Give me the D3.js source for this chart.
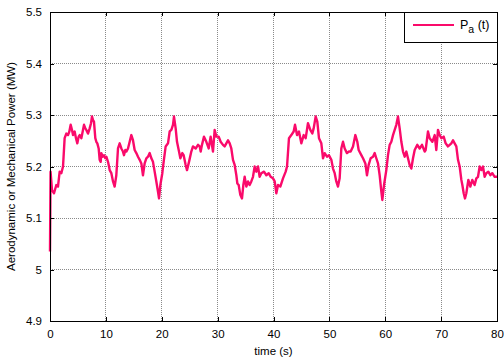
<!DOCTYPE html>
<html lang="en">
<meta charset="utf-8">
<head>
    <script src="https://d3js.org/d3.v7.min.js"></script>
    <style>
        body { margin: 0; background: #fff; }
        text { font-family: "Liberation Sans", Arial, sans-serif; }
    </style>
</head>
<body>
<script>
// time (s) and power (MW)
const time = [
    0, 0.1, 0.36, 0.72, 1.13, 1.43, 1.73, 2.03, 2.33, 2.62, 2.92, 3.22, 3.46, 3.70, 3.94,
    4.12, 4.41, 4.65, 4.89, 5.13, 5.31, 5.61, 5.85, 6.09, 6.32, 6.50, 6.80, 7.10, 7.34,
    7.52, 7.70, 7.87, 8.11, 8.29, 8.47, 8.71, 8.89, 9.07, 9.19, 9.43, 9.66, 9.90, 10.08,
    10.38, 10.56, 10.68, 10.98, 11.28, 11.57, 11.87, 12.17, 12.47, 12.77, 13.06, 13.24, 13.48,
    13.66, 13.96, 14.26, 14.56, 14.85, 15.15, 15.45, 15.75, 16.05, 16.35, 16.64, 16.94, 17.24,
    17.54, 17.84, 18.14, 18.43, 18.73, 19.03, 19.33, 19.51, 19.75, 20.10, 20.34, 20.70, 21.12,
    21.42, 21.72, 22.01, 22.19, 22.49, 22.73, 23.09, 23.33, 23.68, 23.92, 24.28, 24.52, 24.88,
    25.29, 25.59, 26.07, 26.49, 26.79,
    26.97, 27.20, 27.56, 27.98, 28.40, 28.75, 29.17, 29.47, 29.77, 30.19, 30.54, 30.96, 31.26,
    31.56, 31.86, 32.16, 32.45, 32.75, 33.05, 33.35, 33.53, 33.77, 34.06, 34.36, 34.60, 34.84,
    35.14, 35.44, 35.73, 36.03, 36.33, 36.63, 36.93, 37.23, 37.52, 37.82, 38.30, 38.72, 39.14,
    39.49, 39.91,
    40.21, 40.51, 40.81, 41.22, 41.70, 42.18, 42.42, 42.77, 43.19, 43.61, 43.85, 44.21, 44.56,
    44.98, 45.40, 45.76, 46.17, 46.59, 46.95, 47.19, 47.55, 47.84, 48.14, 48.56, 48.86, 49.16,
    49.57, 49.93, 50.35, 50.65, 50.95, 51.24, 51.54, 51.84, 52.14, 52.44, 52.74, 53.15, 53.51,
    53.81, 54.23, 54.65, 55.00, 55.24, 55.72, 56.02, 56.44, 56.73, 57.03, 57.39, 57.81, 58.11,
    58.40, 58.70, 59.00, 59.30, 59.48, 59.78, 60.19, 60.49, 60.79, 61.09, 61.39, 61.69, 61.98,
    62.28, 62.58, 62.88, 63.18, 63.48, 63.77, 64.07, 64.37, 64.67, 64.97, 65.27, 65.74, 66.16,
    66.58, 67.06,
    67.23, 67.65, 67.95, 68.43, 68.85, 69.14, 69.44, 69.74, 70.04, 70.46, 70.81, 71.23, 71.53,
    71.83, 72.13, 72.42, 72.72, 73.02, 73.32, 73.62, 73.80, 74.04, 74.27, 74.51, 74.87, 75.23,
    75.58, 76.00, 76.30, 76.60, 76.90, 77.20, 77.49, 77.79, 78.09, 78.45, 78.81, 79.16, 79.58,
    80.00
];
const power = [
    5.035, 5.19, 5.154, 5.148, 5.164, 5.161, 5.19, 5.187, 5.2, 5.255, 5.264, 5.261, 5.268, 5.281, 5.271,
    5.261, 5.268, 5.255, 5.245, 5.258, 5.261, 5.255, 5.268, 5.281, 5.274, 5.271, 5.264, 5.274, 5.284,
    5.297, 5.29, 5.287, 5.255, 5.248, 5.245, 5.235, 5.213, 5.209, 5.226, 5.219, 5.222, 5.216, 5.219,
    5.209, 5.2, 5.193, 5.187, 5.171, 5.161, 5.183, 5.235, 5.245, 5.235, 5.229, 5.222, 5.232,
    5.229, 5.235, 5.248, 5.261, 5.251, 5.232, 5.226, 5.219, 5.213, 5.206, 5.183, 5.206, 5.216,
    5.219, 5.226, 5.216, 5.209, 5.19, 5.171, 5.151, 5.138, 5.164, 5.187, 5.209, 5.239, 5.245,
    5.268, 5.271, 5.281, 5.297, 5.274, 5.248, 5.229, 5.216, 5.226, 5.222, 5.203, 5.193, 5.209,
    5.229, 5.239, 5.235, 5.242, 5.239,
    5.229, 5.242, 5.258, 5.248, 5.235, 5.258, 5.229, 5.271, 5.258, 5.258, 5.248, 5.242, 5.239,
    5.245, 5.251, 5.245, 5.235, 5.213, 5.203, 5.183, 5.167, 5.164, 5.145, 5.138, 5.164, 5.18,
    5.161, 5.171, 5.164, 5.171, 5.18, 5.2, 5.19, 5.2, 5.18, 5.187, 5.19, 5.183, 5.187,
    5.18, 5.177,
    5.171, 5.148, 5.164, 5.161, 5.177, 5.19, 5.2, 5.255, 5.261, 5.268, 5.281, 5.261, 5.268,
    5.245, 5.261, 5.255, 5.284, 5.271, 5.264, 5.274, 5.297, 5.287, 5.255, 5.245, 5.216, 5.226,
    5.219, 5.222, 5.213, 5.196, 5.187, 5.171, 5.161, 5.177, 5.235, 5.248, 5.235, 5.226, 5.229,
    5.229, 5.239, 5.261, 5.248, 5.232, 5.222, 5.216, 5.206, 5.183, 5.203, 5.216, 5.219, 5.226,
    5.216, 5.206, 5.183, 5.151, 5.135, 5.164, 5.193, 5.222, 5.242, 5.248, 5.261, 5.271, 5.281,
    5.297, 5.274, 5.248, 5.229, 5.219, 5.229, 5.216, 5.203, 5.196, 5.216, 5.232, 5.242, 5.235,
    5.242, 5.229,
    5.232, 5.268, 5.255, 5.248, 5.261, 5.232, 5.271, 5.261, 5.255, 5.258, 5.245, 5.239, 5.242,
    5.245, 5.251, 5.245, 5.239, 5.213, 5.2, 5.174, 5.164, 5.148, 5.138, 5.148, 5.174, 5.161,
    5.174, 5.164, 5.177, 5.18, 5.2, 5.193, 5.2, 5.18, 5.187, 5.19, 5.183, 5.187, 5.18,
    5.18
];
const xTicks = [0, 10, 20, 30, 40, 50, 60, 70, 80];
const yTicks = [4.9, 5, 5.1, 5.2, 5.3, 5.4, 5.5];
const seriesName = "P";
const seriesSub = "a";
const seriesRest = " (t)";

const lineColor = "#fa0a6a";

// dimensions
const W = 504, H = 361;
const margin = {top: 12, right: 7, bottom: 40, left: 50};
const width = W - margin.left - margin.right;
const height = H - margin.top - margin.bottom;

const svg = d3.select("body").append("svg")
    .attr("width", W)
    .attr("height", H);
const g = svg.append("g")
    .attr("transform", "translate(" + margin.left + "," + margin.top + ")");

const x = d3.scaleLinear().domain([0, 80]).range([0, width]);
const y = d3.scaleLinear().domain([4.9, 5.5]).range([height, 0]);

// grid (dotted)
g.append("g").selectAll("line.vg")
    .data(xTicks.slice(1, -1))
    .enter().append("line")
    .attr("x1", d => x(d)).attr("x2", d => x(d))
    .attr("y1", 0).attr("y2", height)
    .attr("stroke", "#8a8a8a").attr("stroke-width", 1)
    .attr("stroke-dasharray", "1,1")
    .attr("shape-rendering", "crispEdges");
g.append("g").selectAll("line.hg")
    .data(yTicks.slice(1, -1))
    .enter().append("line")
    .attr("x1", 0).attr("x2", width)
    .attr("y1", d => y(d)).attr("y2", d => y(d))
    .attr("stroke", "#8a8a8a").attr("stroke-width", 1)
    .attr("stroke-dasharray", "1,1")
    .attr("shape-rendering", "crispEdges");

// data line
const pts = time.map((t, i) => [t, power[i]]);
g.append("path")
    .datum(pts)
    .attr("fill", "none")
    .attr("stroke", lineColor)
    .attr("stroke-width", 2.4)
    .attr("stroke-linejoin", "round")
    .attr("d", d3.line().x(d => x(d[0])).y(d => y(d[1])));

// axes with inward ticks on all four sides
const fmtY = d3.format("~g");
function styleAxis(sel) {
    sel.select(".domain").remove();
    sel.selectAll("line").attr("stroke", "#000").attr("shape-rendering", "crispEdges");
    sel.selectAll("text").attr("font-size", "11.5px").attr("fill", "#000")
        .attr("font-family", "'Liberation Sans', Arial, sans-serif");
}
g.append("g")
    .attr("transform", "translate(0," + height + ")")
    .call(d3.axisBottom(x).tickValues(xTicks).tickSizeInner(-4).tickSizeOuter(0).tickPadding(9))
    .call(styleAxis);
g.append("g")
    .call(d3.axisLeft(y).tickValues(yTicks).tickFormat(fmtY).tickSizeInner(-4).tickSizeOuter(0).tickPadding(8))
    .call(styleAxis);
g.append("g")
    .call(d3.axisTop(x).tickValues(xTicks).tickSizeInner(-4).tickSizeOuter(0).tickFormat(""))
    .call(styleAxis);
g.append("g")
    .attr("transform", "translate(" + width + ",0)")
    .call(d3.axisRight(y).tickValues(yTicks).tickSizeInner(-4).tickSizeOuter(0).tickFormat(""))
    .call(styleAxis);

// frame
g.append("rect")
    .attr("x", 0).attr("y", 0)
    .attr("width", width).attr("height", height)
    .attr("fill", "none").attr("stroke", "#000").attr("stroke-width", 1)
    .attr("shape-rendering", "crispEdges");

// axis labels
svg.append("text")
    .attr("x", margin.left + width / 2).attr("y", 355)
    .attr("text-anchor", "middle")
    .attr("font-size", "11.5px")
    .text("time (s)");
svg.append("text")
    .attr("transform", "translate(15," + (margin.top + height / 2) + ") rotate(-90)")
    .attr("text-anchor", "middle")
    .attr("font-size", "11.5px")
    .text("Aerodynamic or Mechanical Power (MW)");

// legend
const lg = g.append("g").attr("transform", "translate(" + (width - 93) + ",0)");
lg.append("rect")
    .attr("width", 93).attr("height", 30)
    .attr("fill", "#fff").attr("stroke", "#000").attr("stroke-width", 1)
    .attr("shape-rendering", "crispEdges");
lg.append("line")
    .attr("x1", 9).attr("x2", 50).attr("y1", 13).attr("y2", 13)
    .attr("stroke", lineColor).attr("stroke-width", 2);
const lt = lg.append("text")
    .attr("x", 56).attr("y", 17)
    .attr("font-size", "12.5px");
lt.append("tspan").text(seriesName);
lt.append("tspan").attr("dy", 4).attr("font-size", "10.5px").text(seriesSub);
lt.append("tspan").attr("dy", -4).text(seriesRest);
</script>
</body>
</html>
